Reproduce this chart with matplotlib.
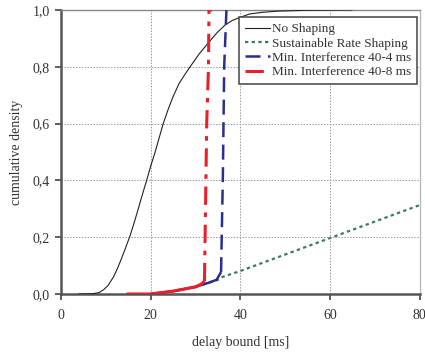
import matplotlib
matplotlib.use("Agg")
import matplotlib.pyplot as plt
from matplotlib.lines import Line2D

# ---- data ----
x_noshape = [4, 7, 8.5, 9.5, 10.5, 11.7, 12.6, 13.5, 14.4, 15.4, 16.2, 17, 18, 19.1, 20, 21, 21.9,
             22.8, 23.9, 25, 26.3, 27.5, 28.8, 30.8, 32.8, 34.8, 36.6, 38.2, 39.9, 42.1, 45, 48.6, 55, 64.9]
y_noshape = [0, 0.001, 0.005, 0.015, 0.03, 0.06, 0.09, 0.125, 0.162, 0.205, 0.245, 0.287, 0.342, 0.4, 0.45, 0.5, 0.55,
             0.6, 0.65, 0.695, 0.74, 0.77, 0.8, 0.845, 0.883, 0.92, 0.947, 0.963, 0.974, 0.986, 0.992, 0.996, 0.999, 1.0]

x_sus = [20, 25, 30, 33, 35, 36, 40, 50, 60, 70, 80]
y_sus = [0, 0.01, 0.025, 0.04, 0.05, 0.06, 0.081, 0.139, 0.197, 0.255, 0.313]

x_mi4 = [20, 25, 30, 33, 34.7, 35.7, 36.1, 36.4, 36.9, 38.0]
y_mi4 = [0, 0.01, 0.025, 0.04, 0.05, 0.077, 0.41, 0.8, 1.0, 1.0]
mi4_jump = 5  # index where the vertical rise starts

x_mi8 = [14.6, 20, 25, 30, 31.4, 32.0, 32.5, 32.9, 33.0, 33.7]
y_mi8 = [0, 0, 0.01, 0.025, 0.036, 0.045, 0.6, 0.8, 1.0, 1.0]
mi8_jump = 5

labels = ["No Shaping", "Sustainable Rate Shaping", "Min. Interference 40-4 ms", "Min. Interference 40-8 ms"]
xticks = [0, 20, 40, 60, 80]
yticks = [0.0, 0.2, 0.4, 0.6, 0.8, 1.0]
ytick_labels = ["0,0", "0,2", "0,4", "0,6", "0,8", "1,0"]

# ---- style ----
plt.rcParams['font.family'] = ['Liberation Serif', 'DejaVu Serif']
txt = '#333333'
c_black = '#222222'
c_green = '#3d7a5c'
c_blue = '#2a2f8f'
c_red = '#e8202a'

fig = plt.figure(figsize=(4.25, 3.54), dpi=100)
ax = fig.add_axes([0.1435, 0.1695, 0.844, 0.8023])

ax.plot(x_noshape, y_noshape, color=c_black, lw=0.8, zorder=5)
ax.plot(x_sus, y_sus, color=c_green, lw=1.6, linestyle=(0, (1.5, 1.5)), zorder=4)
ax.plot(x_mi4[:mi4_jump + 1], y_mi4[:mi4_jump + 1], color=c_blue, lw=1.8, zorder=6, solid_capstyle='butt')
ax.plot(x_mi4[mi4_jump:], y_mi4[mi4_jump:], color=c_blue, lw=1.8, linestyle=(0, (6, 3)), zorder=6)
ax.plot(x_mi8[:mi8_jump + 1], y_mi8[:mi8_jump + 1], color=c_red, lw=2.2, zorder=7, solid_capstyle='butt')
ax.plot(x_mi8[mi8_jump:], y_mi8[mi8_jump:], color=c_red, lw=2.2, linestyle=(0, (6, 2.5, 1.5, 2.5)), zorder=7)

ax.set_xlim(0, 80)
ax.set_ylim(0, 1.0)
ax.set_xticks(xticks)
ax.set_xticklabels([str(v) for v in xticks])
ax.set_yticks(yticks)
ax.set_yticklabels(ytick_labels)
ax.tick_params(axis='both', direction='out', length=4, width=1.2, color='#444444',
               labelsize=10, labelcolor=txt, pad=4)
ax.tick_params(axis='x', pad=7)

ax.grid(True, color='#999999', linestyle=(0, (1.5, 1.5)), lw=0.7)
ax.set_axisbelow(True)

for s in ['left', 'bottom']:
    ax.spines[s].set_color('#555555')
    ax.spines[s].set_linewidth(1.8)
ax.spines['top'].set_color('#888888')
ax.spines['top'].set_linewidth(1.0)
ax.spines['right'].set_color('#bbbbbb')
ax.spines['right'].set_linewidth(1.0)

ax.set_xlabel("delay bound [ms]", fontsize=10, color=txt, labelpad=10)
ax.set_ylabel("cumulative density", fontsize=10, color=txt, labelpad=7)

handles = [
    Line2D([], [], color=c_black, lw=0.8),
    Line2D([], [], color=c_green, lw=1.6, linestyle=(0, (1.5, 1.5))),
    Line2D([], [], color=c_blue, lw=1.8, linestyle=(0, (6, 3))),
    Line2D([], [], color=c_red, lw=2.2, linestyle=(0, (6, 2.5, 1.5, 2.5))),
]
leg = ax.legend(handles, labels, loc='upper right', bbox_to_anchor=(0.993, 0.975),
                borderaxespad=0, fontsize=9.5, frameon=True, fancybox=False,
                edgecolor='#444444', framealpha=1, handlelength=1.9, handletextpad=0.15,
                labelspacing=0.16, borderpad=0.45, labelcolor=txt)
leg.get_frame().set_linewidth(1.1)
leg.set_zorder(10)

fig.savefig("out.png", dpi=100)
